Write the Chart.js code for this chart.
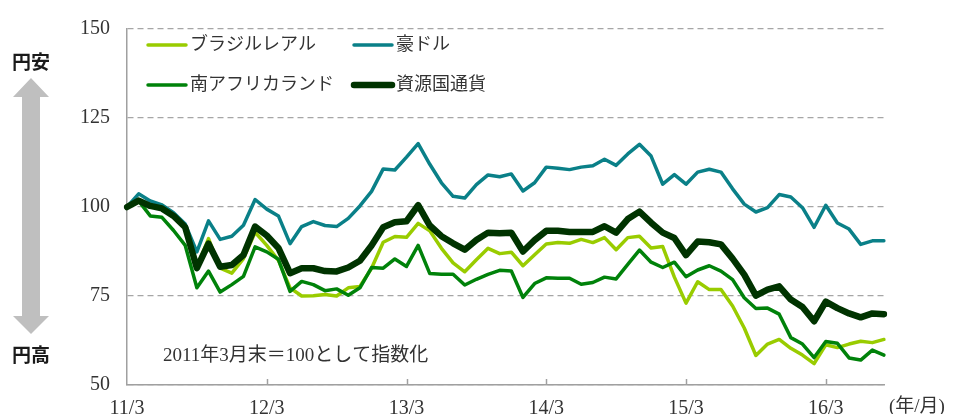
<!DOCTYPE html>
<html>
<head>
<meta charset="utf-8">
<script src="https://cdn.jsdelivr.net/npm/chart.js@4/dist/chart.umd.min.js"></script>
<style>
  html, body { margin: 0; padding: 0; background: #fff; }
  #wrap { width: 956px; height: 414px; overflow: hidden; }
</style>
</head>
<body>
<div id="wrap"><canvas id="c" width="956" height="414"></canvas></div>
<script>
// ---- data ----
const months = [
  '11/3','11/4','11/5','11/6','11/7','11/8','11/9','11/10','11/11','11/12',
  '12/1','12/2','12/3','12/4','12/5','12/6','12/7','12/8','12/9','12/10','12/11','12/12',
  '13/1','13/2','13/3','13/4','13/5','13/6','13/7','13/8','13/9','13/10','13/11','13/12',
  '14/1','14/2','14/3','14/4','14/5','14/6','14/7','14/8','14/9','14/10','14/11','14/12',
  '15/1','15/2','15/3','15/4','15/5','15/6','15/7','15/8','15/9','15/10','15/11','15/12',
  '16/1','16/2','16/3','16/4','16/5','16/6','16/7','16/8'
];
const tickMonths = ['11/3','12/3','13/3','14/3','15/3','16/3'];
const yTicks = [50, 75, 100, 125, 150];

const seriesNames = ['ブラジルレアル', '豪ドル', '南アフリカランド', '資源国通貨'];

const brl = [100,102.1,100.5,100.5,98.0,94.3,83.2,91.1,82.8,81.4,
  85.5,92.9,89.2,85.0,77.3,75.0,75.1,75.4,75.0,77.3,77.7,82.8,
  90.1,91.7,91.5,95.4,93.3,88.4,84.3,81.8,85.2,88.4,86.9,87.3,
  83.5,86.6,89.6,90.0,89.8,90.9,90.0,91.4,88.0,91.4,91.8,88.5,
  88.9,80.3,73.0,79.0,76.8,76.8,72.2,66.0,58.3,61.5,62.8,60.3,
  58.4,56.0,61.3,60.5,61.5,62.3,61.9,62.8];

const aud = [100,103.7,101.7,100.6,98.4,95.2,87.4,96.1,90.9,91.8,
  94.9,102.1,99.4,97.5,89.7,94.5,95.9,94.8,94.5,96.8,100.3,104.4,
  110.7,110.4,114.0,117.8,112.0,106.8,103.0,102.5,106.3,109.0,108.5,109.3,
  104.5,106.8,111.2,110.9,110.5,111.2,111.6,113.4,111.7,114.9,117.6,114.3,
  106.4,109.1,106.4,109.8,110.6,109.8,105.1,100.8,98.6,99.8,103.5,102.8,
  99.8,94.3,100.5,95.5,93.8,89.5,90.5,90.5];

const zar = [100,101.7,97.5,97.1,93.4,89.2,77.3,82.0,76.1,78.2,
  80.5,88.8,87.4,85.3,76.3,79.1,78.2,76.5,77.0,75.2,77.3,83.0,
  82.8,85.4,83.3,89.2,81.3,81.1,81.1,78.1,79.7,81.1,82.2,82.0,
  74.6,78.5,80.1,80.0,80.0,78.3,78.8,80.3,79.8,83.9,87.9,84.5,
  83.0,84.5,80.4,82.3,83.5,82.0,79.6,74.5,71.5,71.6,69.9,63.3,
  61.5,57.7,62.2,61.7,57.6,57.0,59.8,58.4];

const res = [100,101.8,100.3,99.6,97.5,94.3,82.8,89.7,83.2,83.7,
  86.5,94.5,92.0,88.5,81.4,82.8,82.8,82.0,81.9,83.0,84.9,89.2,
  94.3,95.7,96.0,100.5,94.8,91.8,89.8,88.0,90.7,92.8,92.6,92.8,
  87.5,90.7,93.3,93.3,93.0,93.0,93.0,94.6,92.8,96.6,98.7,95.6,
  92.8,91.3,86.5,90.3,90.1,89.5,85.5,81.0,75.1,76.8,77.7,74.0,
  71.9,67.9,73.4,71.6,70.1,69.0,70.1,69.9];

const noteText = '2011年3月末＝100として指数化';
const unitText = '(年/月)';
const upText = '円安';
const downText = '円高';

// ---- styles ----
const colors = ['#99cc00', '#0a8088', '#00820a', '#003300'];
const widths = [3.5, 3.5, 3.5, 6.5];
const serifFont = "'Liberation Serif', 'Noto Sans CJK JP', serif";
const cjkFont = "'Liberation Serif', 'Noto Sans CJK JP', sans-serif";
const textColor = '#333333';
const axisColor = '#a0a0a0';

const decorations = {
  id: 'decorations',
  beforeDraw(chart) {
    const ctx = chart.ctx;
    ctx.save();
    // vertical double arrow
    ctx.fillStyle = '#bfbfbf';
    ctx.beginPath();
    ctx.moveTo(31, 78);
    ctx.lineTo(49, 97);
    ctx.lineTo(40, 97);
    ctx.lineTo(40, 316);
    ctx.lineTo(49, 316);
    ctx.lineTo(31, 334);
    ctx.lineTo(13, 316);
    ctx.lineTo(22, 316);
    ctx.lineTo(22, 97);
    ctx.lineTo(13, 97);
    ctx.closePath();
    ctx.fill();
    // side labels
    ctx.fillStyle = '#1a1a1a';
    ctx.font = "bold 19px 'Noto Sans CJK JP', sans-serif";
    ctx.textAlign = 'center';
    ctx.textBaseline = 'middle';
    ctx.fillText(upText, 31, 62);
    ctx.fillText(downText, 31, 355);
    ctx.restore();
  },
  afterDraw(chart) {
    const ctx = chart.ctx;
    const xs = chart.scales.x;
    const area = chart.chartArea;
    ctx.save();
    // inward tick marks at March of each year
    ctx.strokeStyle = axisColor;
    ctx.lineWidth = 1.5;
    months.forEach((m, i) => {
      if (i > 0 && tickMonths.includes(m)) {
        const x = Math.round(xs.getPixelForValue(i)) + 0.5;
        ctx.beginPath();
        ctx.moveTo(x, area.bottom);
        ctx.lineTo(x, area.bottom - 6);
        ctx.stroke();
      }
    });
    // legend (inside plot, two columns)
    const legendPos = [[146, 45], [352, 45], [146, 85], [352, 85]];
    ctx.font = "18px " + cjkFont;
    ctx.textBaseline = 'middle';
    ctx.textAlign = 'left';
    chart.data.datasets.forEach((ds, k) => {
      const [lx, ly] = legendPos[k];
      ctx.strokeStyle = ds.borderColor;
      ctx.lineWidth = ds.borderWidth;
      ctx.lineCap = 'round';
      ctx.beginPath();
      ctx.moveTo(lx + 2, ly);
      ctx.lineTo(lx + 40, ly);
      ctx.stroke();
      ctx.fillStyle = textColor;
      ctx.fillText(ds.label, lx + 44, ly);
    });
    // note
    ctx.font = "19px " + cjkFont;
    ctx.fillStyle = textColor;
    ctx.fillText(noteText, 163, 356);
    // unit label
    ctx.font = "19px " + cjkFont;
    ctx.textBaseline = 'top';
    ctx.fillText(unitText, 889, 398);
    ctx.restore();
  }
};

const datasets = [brl, aud, zar, res].map((arr, k) => ({
  label: seriesNames[k],
  data: arr,
  borderColor: colors[k],
  backgroundColor: colors[k],
  borderWidth: widths[k],
  pointRadius: 0,
  tension: 0,
  borderJoinStyle: 'round',
  borderCapStyle: 'round',
  fill: false,
  order: [3, 2, 1, 0][k]
}));

new Chart(document.getElementById('c'), {
  type: 'line',
  data: { labels: months, datasets },
  plugins: [decorations],
  options: {
    responsive: false,
    animation: false,
    events: [],
    layout: { padding: { left: 0, right: 72, top: 20, bottom: 0 } },
    plugins: { legend: { display: false }, tooltip: { enabled: false }, title: { display: false } },
    scales: {
      x: {
        type: 'category',
        offset: false,
        grid: { display: false, drawTicks: false },
        border: { display: true, color: axisColor, width: 1.5 },
        ticks: {
          autoSkip: false,
          maxRotation: 0,
          minRotation: 0,
          padding: 12,
          color: textColor,
          font: { family: serifFont, size: 20 },
          callback: function (v, i) { const l = months[i]; return tickMonths.includes(l) ? l : ''; }
        },
        afterFit(s) { s.height = 29; }
      },
      y: {
        min: 50, max: 150,
        afterBuildTicks(s) { s.ticks = yTicks.map(v => ({ value: v })); },
        grid: { color: '#a6a6a6', lineWidth: 1.3, drawTicks: false },
        border: { display: true, color: axisColor, width: 1.5, dash: [6, 4] },
        ticks: {
          padding: 17,
          color: textColor,
          font: { family: serifFont, size: 20 }
        },
        afterFit(s) { s.width = 127; }
      }
    }
  }
});
</script>
</body>
</html>
